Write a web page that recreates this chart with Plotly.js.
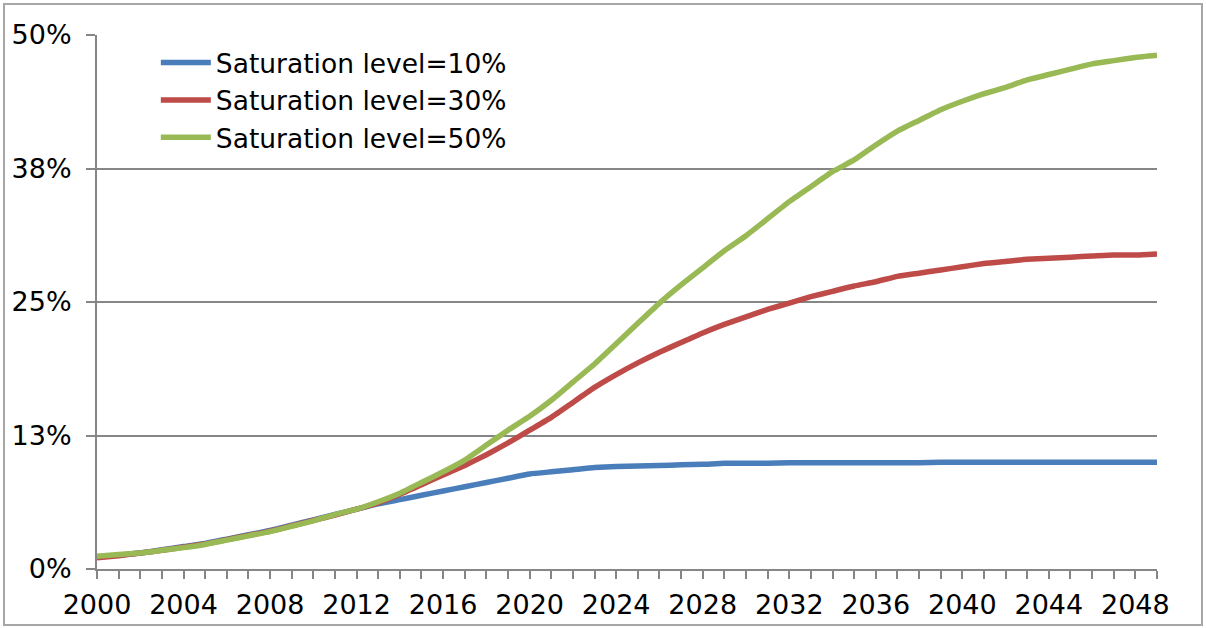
<!DOCTYPE html>
<html>
<head>
<meta charset="utf-8">
<script src="https://cdn.plot.ly/plotly-3.0.1.min.js"></script>
<style>
  html, body { margin: 0; padding: 0; background: #ffffff; }
  #wrap { position: relative; width: 1206px; height: 628px; }
  #chart { width: 1206px; height: 628px; }
  #frame { position: absolute; left: 3px; top: 3px; width: 1196px; height: 619px;
           border: 2px solid #a6a6a6; pointer-events: none; }
</style>
</head>
<body>
<div id="wrap">
  <div id="chart"></div>
  <div id="frame"></div>
</div>
<script>
// ---- data ----
const years = [];
for (let y = 2000; y <= 2049; y++) years.push(y);

const seriesNames = ["Saturation level=10%", "Saturation level=30%", "Saturation level=50%"];

const sat10 = [0.011, 0.013, 0.015, 0.018, 0.021, 0.024, 0.028, 0.032, 0.036, 0.041,
               0.046, 0.051, 0.056, 0.061, 0.065, 0.069, 0.073, 0.077, 0.081, 0.085,
               0.089, 0.091, 0.093, 0.095, 0.096, 0.0965, 0.097, 0.0975, 0.098, 0.099,
               0.099, 0.099, 0.0995, 0.0995, 0.0995, 0.0995, 0.0995, 0.0995, 0.0995, 0.100,
               0.100, 0.100, 0.100, 0.100, 0.100, 0.100, 0.100, 0.100, 0.100, 0.100];

const sat30 = [0.0105, 0.0125, 0.015, 0.0175, 0.0205, 0.0235, 0.0275, 0.0315, 0.0355, 0.0405,
               0.0455, 0.0505, 0.056, 0.062, 0.070, 0.079, 0.088, 0.097, 0.107, 0.118,
               0.130, 0.142, 0.156, 0.170, 0.182, 0.193, 0.203, 0.212, 0.221, 0.229,
               0.236, 0.243, 0.249, 0.255, 0.260, 0.265, 0.269, 0.274, 0.277, 0.280,
               0.283, 0.286, 0.288, 0.290, 0.291, 0.292, 0.293, 0.294, 0.294, 0.295];

const sat50 = [0.012, 0.0135, 0.015, 0.0175, 0.020, 0.023, 0.027, 0.031, 0.035, 0.040,
               0.045, 0.051, 0.056, 0.063, 0.071, 0.081, 0.091, 0.102, 0.116, 0.130,
               0.143, 0.158, 0.175, 0.192, 0.211, 0.230, 0.249, 0.266, 0.282, 0.298,
               0.312, 0.328, 0.344, 0.358, 0.372, 0.383, 0.397, 0.410, 0.420, 0.430,
               0.438, 0.445, 0.451, 0.458, 0.463, 0.468, 0.473, 0.476, 0.479, 0.481];

const yTickVals = [0, 0.125, 0.25, 0.375, 0.5];
const yTickText = ["0%", "13%", "25%", "38%", "50%"];

const colors = ["#4a7ebb", "#be4b48", "#98b954"];

// ---- chart ----
const values = [sat10, sat30, sat50];
const traces = values.map((v, i) => ({
  x: years, y: v, name: seriesNames[i], type: "scatter", mode: "lines",
  line: { color: colors[i], width: 5.5, shape: "spline", smoothing: 0.4 }
}));

const axisGray = "#868686";
const layout = {
  width: 1206, height: 628,
  margin: { l: 97, r: 49, t: 35, b: 59 },
  paper_bgcolor: "#ffffff", plot_bgcolor: "#ffffff",
  font: { family: "DejaVu Sans, Verdana, sans-serif", color: "#000000" },
  showlegend: true,
  legend: {
    x: 0.0555, y: 0.993, xanchor: "left", yanchor: "top",
    font: { size: 26.5, family: "DejaVu Sans, Verdana, sans-serif", color: "#000000" },
    bgcolor: "rgba(0,0,0,0)", borderwidth: 0, tracegroupgap: 0,
    itemwidth: 50
  },
  xaxis: {
    range: [2000, 2049], type: "linear",
    tick0: 2000, dtick: 4, ticks: "outside", ticklen: 8, tickwidth: 2, tickcolor: axisGray,
    minor: { dtick: 1, tick0: 2000, ticks: "outside", ticklen: 8, tickwidth: 2, tickcolor: axisGray, showgrid: false },
    showline: true, linecolor: axisGray, linewidth: 2,
    showgrid: false, zeroline: false, ticklabelstandoff: 3,
    tickfont: { size: 27, color: "#000000" }
  },
  yaxis: {
    range: [0, 0.5], tickmode: "array", tickvals: yTickVals, ticktext: yTickText,
    ticks: "outside", ticklen: 9, tickwidth: 2, tickcolor: axisGray,
    showline: true, linecolor: axisGray, linewidth: 2, ticklabelstandoff: 9,
    showgrid: true, gridcolor: axisGray, gridwidth: 2, zeroline: false,
    tickfont: { size: 27, color: "#000000" }
  }
};

Plotly.newPlot("chart", traces, layout, { displayModeBar: false, staticPlot: true });
</script>
</body>
</html>
